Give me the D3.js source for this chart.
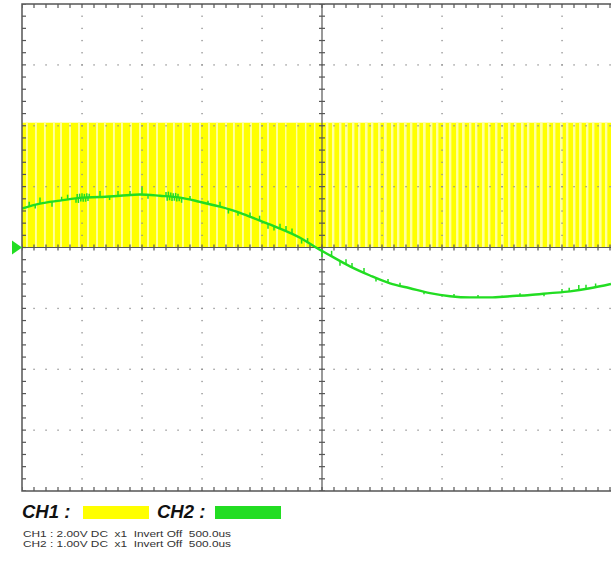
<!DOCTYPE html>
<html><head><meta charset="utf-8">
<script src="https://cdn.jsdelivr.net/npm/d3@7"></script>
<style>
html,body{margin:0;padding:0;background:#fff;overflow:hidden;}
svg{display:block;}
</style></head>
<body>
<script>
// ---- data ----
// time in microseconds (500 us / div), 10 divisions
const timeDivs = [0,500,1000,1500,2000,2500,3000,3500,4000,4500,5000];
// CH1 (2.00 V/div): PWM high level and times where it drops low
const ch1High = 4.1;
const ch1LowTimes = [33,108,183,258,317,392,467,542,617,683,758,825,900,975,1042,1117,1192,1258,1333,1400,1475,1550,1617,1692,1758,1833,1900,1975,2042,2117,2192,2283,2358,2433,
  2533,2583,2642,2692,2750,2800,2858,2908,2967,3017,3075,3125,3183,3233,3292,3342,3400,3450,3508,3558,3617,3667,3725,3775,3833,3883,3942,3992,4050,4100,4158,4208,4267,4317,4375,4425,4483,4533,4592,4642,4700,4750,4808,4858];
const ch1LowWidths = [16,16,16,16,16,16,16,16,16,16,16,16,16,16,16,16,16,16,16,16,16,16,16,16,16,16,16,16,16,16,12,12,12,12,
  20,20,20,22,20,20,22,20,20,22,20,20,22,20,20,22,20,20,22,20,20,22,20,20,22,20,20,22,20,20,22,20,20,22,20,20,22,20,20,22,20,20,22,20];
// CH2 (1.00 V/div): filtered sine
const ch2Times = [0,150,317,500,650,817,983,1150,1317,1483,1650,1817,1983,2150,2317,2450,2567,2733,2900,3067,3233,3400,3567,3733,3900,4067,4233,4400,4567,4733,4908];
const ch2Volts = [0.64,0.72,0.77,0.82,0.83,0.85,0.87,0.85,0.82,0.75,0.67,0.57,0.44,0.31,0.16,0.0,-0.13,-0.31,-0.46,-0.59,-0.67,-0.75,-0.80,-0.82,-0.82,-0.80,-0.78,-0.75,-0.72,-0.67,-0.60];
// CH2 noise glitches: time (us), excursion (V)
const ch2GlitchTimes = [60,110,150,250,330,380,450,460,470,480,490,500,510,520,530,540,550,560,650,730,800,900,1000,1050,1200,1210,1220,1230,1240,1250,1260,1270,1280,1290,1300,1310,1330,1400,1550,1650,1720,1800,1900,1980,2050,2100,2150,2200,2250,2330,2380,2500,2580,2650,2700,2750,2850,2950,3050,3150,3350,3600,3800,4150,4350,4500,4560,4640,4700,4780];
const ch2GlitchVolts = [0.08,-0.06,0.1,-0.08,0.06,0.08,-0.07,0.07,-0.08,0.07,-0.06,0.07,-0.07,0.06,-0.07,0.07,-0.06,0.06,0.1,-0.06,0.08,0.07,0.12,-0.06,0.07,-0.07,0.08,-0.06,0.07,-0.07,0.06,-0.06,0.07,-0.07,0.06,-0.06,-0.08,0.06,0.05,0.08,-0.07,-0.06,0.07,0.08,-0.08,-0.07,0.08,0.09,0.09,-0.08,0.07,-0.1,0.09,-0.08,0.08,0.07,0.08,-0.06,0.06,0.05,-0.04,0.04,0.04,0.04,-0.04,0.05,0.06,0.08,0.07,0.06];
const legendNames = ["CH1 :", "CH2 :"];
const infoLines = ["CH1 : 2.00V DC  x1  Invert Off  500.0us", "CH2 : 1.00V DC  x1  Invert Off  500.0us"];

// ---- layout ----
const W = 611, H = 561;
const L = 22, T = 4, B = 491, R = 622;
const x = d3.scaleLinear().domain([0,5000]).range([L,R]);
const y1 = d3.scaleLinear().domain([-8,8]).range([B,T]);
const y2 = d3.scaleLinear().domain([-4,4]).range([B,T]);
const yDiv = d3.scaleLinear().domain([0,8]).range([B,T]);
const cx = x(2500), cy = yDiv(4);

const svg = d3.select("body").append("svg").attr("width",W).attr("height",H);
const defs = svg.append("defs");
defs.append("clipPath").attr("id","plot").append("rect").attr("x",L).attr("y",T).attr("width",R-L).attr("height",B-T);
const plot = svg.append("g").attr("clip-path","url(#plot)");

// CH1 high block
plot.append("rect").attr("x",x(0)).attr("width",x(5000)-x(0))
  .attr("y",y1(ch1High)).attr("height",y1(0)-y1(ch1High)).attr("fill","#ffff00");
// CH1 low intervals (pale stripes)
plot.selectAll("rect.low").data(ch1LowTimes).join("rect").attr("class","low")
  .attr("x",d=>x(d)).attr("width",(d,i)=>x(d+ch1LowWidths[i])-x(d))
  .attr("y",y1(ch1High)).attr("height",y1(0)-y1(ch1High)).attr("fill","#ffffa0");

// grid dots
const dotCol = "#8a8a8a";
const gDots = plot.append("g").attr("fill",dotCol);
const vDivs = d3.range(1,10).filter(k=>k!==5);
const hDivs = d3.range(1,8).filter(k=>k!==4);
vDivs.forEach(k=>{
  d3.range(0,8.001,0.2).forEach(v=>{
    gDots.append("rect").attr("x",x(k*500)-0.6).attr("y",yDiv(v)-0.6).attr("width",1.3).attr("height",1.3);
  });
});
hDivs.forEach(k=>{
  d3.range(0,10.001,0.2).forEach(u=>{
    gDots.append("rect").attr("x",x(u*500)-0.6).attr("y",yDiv(k)-0.6).attr("width",1.3).attr("height",1.3);
  });
});

// center axes with ticks
const axCol = "#555";
const gAx = plot.append("g").attr("stroke",axCol).attr("stroke-width",1.2);
gAx.append("line").attr("x1",L).attr("x2",R).attr("y1",cy).attr("y2",cy);
gAx.append("line").attr("x1",cx).attr("x2",cx).attr("y1",T).attr("y2",B);
d3.range(0,10.001,0.2).forEach(u=>{
  const xx = x(u*500);
  gAx.append("line").attr("x1",xx).attr("x2",xx).attr("y1",cy-3).attr("y2",cy+3);
  gAx.append("line").attr("x1",xx).attr("x2",xx).attr("y1",T).attr("y2",T+4);
  gAx.append("line").attr("x1",xx).attr("x2",xx).attr("y1",B-4).attr("y2",B);
});
d3.range(0,8.001,0.2).forEach(v=>{
  const yy = yDiv(v);
  gAx.append("line").attr("x1",cx-3).attr("x2",cx+3).attr("y1",yy).attr("y2",yy);
  gAx.append("line").attr("x1",L).attr("x2",L+4).attr("y1",yy).attr("y2",yy);
});

// CH2 trace
const ch2Data = ch2Times.map((t,i)=>[t,ch2Volts[i]]);
const line2 = d3.line().x(d=>x(d[0])).y(d=>y2(d[1])).curve(d3.curveMonotoneX);
const green = "#22dd22";
plot.append("path").datum(ch2Data).attr("d",line2).attr("fill","none").attr("stroke",green).attr("stroke-width",2.4);
const interp = t => {
  const i = d3.bisectLeft(ch2Times,t);
  if(i<=0) return ch2Volts[0];
  if(i>=ch2Times.length) return ch2Volts[ch2Volts.length-1];
  const t0=ch2Times[i-1],t1=ch2Times[i];
  return ch2Volts[i-1]+(ch2Volts[i]-ch2Volts[i-1])*(t-t0)/(t1-t0);
};
plot.append("g").attr("stroke",green).attr("stroke-width",1.5)
  .selectAll("line").data(ch2GlitchTimes).join("line")
  .attr("x1",d=>x(d)).attr("x2",d=>x(d))
  .attr("y1",d=>y2(interp(d))).attr("y2",(d,i)=>y2(interp(d)+ch2GlitchVolts[i]));

// frame
const gF = svg.append("g").attr("stroke","#555").attr("stroke-width",1.5).attr("fill","none");
gF.append("rect").attr("x",L).attr("y",T).attr("width",R-L).attr("height",B-T);

// CH2 zero marker
svg.append("path").attr("d",`M${L-10},${y2(0)-7}L${L},${y2(0)}L${L-10},${y2(0)+7}Z`).attr("fill",green);

// legend
const legColors = ["#ffff00", green];
const legX = [22,157], swX = [83,215];
legendNames.forEach((n,i)=>{
  svg.append("text").attr("x",legX[i]).attr("y",518).text(n)
    .attr("font-family","Liberation Sans, Arial, sans-serif").attr("font-size",18.5)
    .attr("font-weight","bold").attr("font-style","italic").attr("fill","#111");
  svg.append("rect").attr("x",swX[i]).attr("y",506).attr("width",66).attr("height",13).attr("fill",legColors[i]);
});
infoLines.forEach((s,i)=>{
  svg.append("text").attr("x",23).attr("y",537+i*10).text(s)
    .attr("font-family","Liberation Sans, Arial, sans-serif").attr("font-size",9.8)
    .attr("textLength",208).attr("lengthAdjust","spacingAndGlyphs")
    .attr("fill","#333").attr("xml:space","preserve").style("white-space","pre");
});
</script>
</body></html>
